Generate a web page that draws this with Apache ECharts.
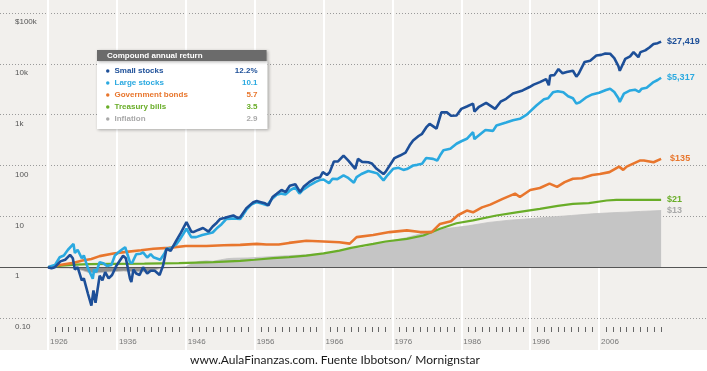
<!DOCTYPE html>
<html>
<head>
<meta charset="utf-8">
<script src="https://cdn.jsdelivr.net/npm/echarts@6/dist/echarts.min.js"></script>
<style>html,body{margin:0;padding:0;background:#fff}#c{width:707px;height:371px}</style>
</head>
<body>
<div id="c"></div>
<script>
// ---------- DATA ----------
const seriesNames = ['Small stocks', 'Large stocks', 'Government bonds', 'Treasury bills', 'Inflation'];
const annualReturns = ['12.2%', '10.1', '5.7', '3.5', '2.9'];
const endValues = ['$27,419', '$5,317', '$135', '$21', '$13'];
const yTickLabels = ['0.10', '1', '10', '100', '1k', '10k', '$100k'];
const legendTitle = 'Compound annual return';
const caption = 'www.AulaFinanzas.com. Fuente Ibbotson/ Mornignstar';

const smallT = [1926.0,1926.5,1927.0,1927.8,1928.5,1929.2,1929.6,1929.9,1930.3,1930.9,1931.2,1931.8,1932.3,1932.6,1932.9,1933.0,1933.5,1933.9,1934.3,1934.8,1935.3,1935.9,1936.9,1937.3,1937.9,1938.1,1938.4,1938.8,1939.3,1939.8,1940.4,1940.9,1941.5,1942.2,1942.7,1943.2,1943.8,1944.6,1945.3,1946.1,1946.8,1947.1,1947.8,1948.5,1949.3,1949.9,1950.5,1951.0,1951.6,1952.2,1952.9,1953.5,1953.9,1954.8,1955.8,1956.3,1956.9,1957.5,1958.0,1958.6,1959.2,1959.9,1960.5,1961.1,1961.9,1962.6,1963.1,1963.9,1964.8,1965.5,1965.9,1966.5,1966.9,1967.5,1968.1,1968.9,1969.6,1970.6,1971.0,1971.6,1972.5,1973.0,1973.7,1974.7,1975.0,1975.6,1976.3,1977.1,1977.9,1978.5,1979.0,1979.8,1980.3,1980.9,1981.4,1982.4,1983.1,1983.9,1984.5,1985.3,1986.0,1986.8,1987.7,1987.9,1988.5,1989.6,1990.9,1991.7,1992.5,1993.5,1994.9,1995.9,1996.5,1997.4,1998.3,1998.7,1998.9,1999.5,2000.1,2000.7,2001.3,2002.2,2002.7,2003.0,2003.9,2004.7,2005.6,2006.3,2006.9,2007.6,2008.2,2008.8,2009.0,2009.8,2010.5,2011.0,2011.7,2012.0,2012.7,2013.3,2013.9,2014.5,2015.0];
const smallV = [1.0,0.95,1.0,1.3,1.4,1.75,1.5,0.9,1.0,0.55,0.6,0.3,0.175,0.35,0.2,0.19,0.68,0.55,0.8,0.6,0.7,1.05,1.67,1.5,0.6,0.51,0.9,0.75,0.7,1.0,0.75,0.85,0.85,0.7,1.07,2.3,2.1,3.3,4.8,7.7,5.0,4.9,5.4,5.9,5.0,6.3,7.5,8.9,9.3,9.8,10.4,9.3,9.6,14.5,19,20,19,18,16.4,24,27.7,33,30,40,43,30,38,47,56,59,74,65,74,120,120,157,125,86,135,118,116,110,86,68,75,100,140,157,180,250,310,380,420,560,660,530,1110,1110,950,960,1300,1450,1650,1150,1400,1700,1300,1800,2050,2600,3000,3500,3900,4370,5000,3800,5900,6000,7900,6500,6900,7300,5600,6300,10900,11500,14600,15000,16000,15800,13000,9000,7300,12500,14000,17000,13500,17000,18400,21000,24600,25500,27419];

const largeT = [1926.0,1926.5,1927.0,1927.7,1928.3,1928.9,1929.7,1929.9,1930.3,1930.9,1931.2,1931.8,1932.5,1932.7,1933.0,1933.5,1934.0,1934.6,1935.2,1935.7,1936.5,1937.2,1937.9,1938.2,1938.8,1939.4,1939.8,1940.4,1940.9,1941.3,1942.3,1942.9,1943.2,1943.8,1944.6,1945.2,1946.1,1946.8,1947.5,1948.4,1949.0,1949.9,1950.5,1951.2,1951.9,1952.6,1953.4,1953.9,1954.8,1955.5,1956.3,1956.9,1957.8,1958.5,1959.2,1959.9,1960.5,1961.2,1961.9,1962.5,1963.0,1963.9,1964.8,1965.5,1966.0,1966.8,1967.3,1968.0,1968.9,1969.5,1970.4,1970.8,1971.5,1972.5,1973.2,1973.8,1974.7,1975.3,1976.1,1976.9,1977.6,1978.1,1979.0,1979.6,1980.3,1980.9,1981.9,1982.5,1982.9,1983.4,1984.4,1985.3,1986.0,1986.8,1987.7,1987.9,1988.2,1989.5,1990.6,1991.1,1992.5,1993.5,1994.5,1995.5,1996.9,1998.0,1998.6,1999.3,2000.0,2000.8,2001.5,2002.2,2002.7,2003.2,2004.2,2005.0,2006.0,2007.0,2007.6,2008.2,2008.8,2009.0,2009.6,2010.5,2011.2,2011.8,2012.2,2012.9,2013.9,2014.5,2015.0];
const largeV = [1,1.05,1.1,1.57,1.7,2.2,2.87,1.9,2.2,1.5,1.7,0.95,0.59,0.9,0.8,1.25,1.2,1.05,1.1,1.69,2.1,2.47,1.25,1.2,1.8,1.83,1.95,1.55,1.8,1.57,1.4,1.85,2.3,2.35,2.8,3.6,5.7,3.9,3.9,4.3,4.5,4.8,5.8,7.0,8.9,9.0,9.0,8.9,13.5,17,19,18,16.5,22,26.5,28,27,33,37,28,33,40,47,52,53,45,55,54,64,58,46,59,68,78,74,70,51,65,86,90,82,85,100,103,108,140,135,125,157,200,213,268,300,335,453,330,360,500,480,613,700,780,830,1000,1510,2000,2100,2750,2900,2750,2300,2100,1650,1750,2220,2500,2700,3050,3240,2800,2100,1780,2600,3000,3100,2800,3240,3400,4370,4800,5317];

const bondsT = [1926.0,1927.7,1929.5,1931.0,1932.3,1933.5,1935.5,1937.4,1939.5,1941.3,1943.5,1946.0,1949.0,1951.5,1953.9,1956.3,1957.7,1959.5,1961.0,1963.5,1966.0,1968.3,1969.8,1970.8,1973.2,1975.6,1978.1,1980.0,1981.7,1982.9,1984.5,1985.5,1986.8,1987.7,1989.0,1990.2,1992.0,1993.8,1994.5,1996.0,1997.4,1998.8,1999.9,2001.0,2002.2,2003.5,2005.0,2006.1,2007.5,2008.9,2009.5,2010.0,2011.9,2012.5,2013.9,2015.0];
const bondsV = [1,1.1,1.2,1.35,1.45,1.65,1.85,2.0,2.15,2.3,2.4,2.6,2.6,2.7,2.75,2.87,2.8,2.8,3.0,3.3,3.2,3.1,2.9,3.9,4.3,4.9,5.3,4.9,4.9,7.1,8.0,10.5,13,12,15,17,22,28,24,33,36,44,38,47,55,56,65,68,74,95,82,95,125,125,116,135];

const billsT = [1926,1928,1930,1932,1935,1940,1945,1950,1953.9,1956,1958.7,1961,1963.5,1966,1968.3,1970,1973.2,1975,1978.1,1980.5,1982.9,1985.3,1987.7,1991.1,1994,1997.4,2000,2002.2,2004.5,2007.1,2008.5,2015];
const billsV = [1,1.07,1.12,1.15,1.16,1.17,1.2,1.26,1.33,1.4,1.5,1.58,1.69,1.87,2.12,2.4,2.87,3.2,3.6,4.2,5.7,7.3,8.3,10.4,12,14,16,17.6,18.2,20.5,21,21];

const inflT = [1926,1927,1928,1929,1930,1931,1932,1933,1934,1935,1937,1938,1940,1941,1942,1943,1944,1945,1946,1947,1948,1949,1950,1951,1952,1953,1955,1957,1960,1963,1966,1968,1970,1972,1974,1976,1978,1980,1981,1983,1985,1987,1990,1993,1996,1999,2002,2005,2008,2010,2012,2015];
const inflV = [1,0.98,0.96,0.96,0.93,0.86,0.78,0.77,0.79,0.81,0.84,0.82,0.81,0.84,0.92,0.96,0.98,1.0,1.02,1.2,1.3,1.33,1.31,1.39,1.47,1.5,1.52,1.57,1.66,1.74,1.87,2.04,2.28,2.43,3.0,3.3,3.8,4.5,5.0,5.6,6.0,6.5,7.6,8.4,9.0,9.7,10.4,11.2,11.8,12.1,12.5,13];

// ---------- LAYOUT / STYLE ----------
const FONT = 'Liberation Sans, Arial, sans-serif';
const colors = ['#1d4f98', '#2aa9e0', '#e8762d', '#69ad28', '#a9a9a9'];
const X_1926 = 48, X_2016 = 668, W = 707;
const pxYear = (X_2016 - X_1926) / 90;
const xMinFull = 1926 - X_1926 / pxYear;
const xMaxFull = 2016 + (W - X_2016) / pxYear;

const zip = (t, v) => t.map((x, i) => [x, v[i]]);
const seriesData = [zip(smallT, smallV), zip(largeT, largeV), zip(bondsT, bondsV), zip(billsT, billsV), zip(inflT, inflV)];

function endLbl(i, dist) {
  return { show: true, formatter: endValues[i], color: colors[i], fontFamily: FONT,
    fontSize: 9, fontWeight: 'bold', distance: dist || 6 };
}
function lineSeries(i, extra) {
  return Object.assign({
    name: seriesNames[i], type: 'line', xAxisIndex: 0, yAxisIndex: 0,
    data: seriesData[i], symbol: 'none', showSymbol: false,
    lineStyle: { color: colors[i], width: 2.6 },
    itemStyle: { color: colors[i] },
    endLabel: endLbl(i),
    z: 10 - i
  }, extra || {});
}

const series = [
  lineSeries(4, {
    lineStyle: { color: '#c2c2c2', width: 0.8 },
    areaStyle: { color: '#c5c5c5', opacity: 1, origin: 1 },
    z: 3
  }),
  lineSeries(3, {
    lineStyle: { color: colors[3], width: 2.2 },
    markLine: { silent: true, symbol: 'none', label: { show: false },
      lineStyle: { color: '#555', type: 'solid', width: 1.2 }, data: [{ yAxis: 1 }] }
  }),
  lineSeries(2, { endLabel: endLbl(2, 9) }),
  lineSeries(1),
  lineSeries(0)
];

const option = {
  animation: false,
  backgroundColor: '#f2f0ed',
  title: [
    { text: legendTitle, left: 97, top: 50, backgroundColor: '#6b6b6b', padding: [2, 64, 1, 10],
      shadowBlur: 3, shadowColor: 'rgba(0,0,0,0.3)', shadowOffsetX: 1, shadowOffsetY: 1,
      textStyle: { color: '#fff', fontSize: 8, fontWeight: 'bold', lineHeight: 8, fontFamily: FONT } },
    { text: caption, left: 190, top: 354, padding: 0,
      textStyle: { color: '#1a1a1a', fontSize: 12, fontWeight: 'normal', fontFamily: 'Lato, sans-serif' } }
  ],
  legend: {
    left: 97, top: 61, orient: 'vertical', selectedMode: false,
    icon: 'circle', itemWidth: 3.5, itemHeight: 3.5, itemGap: 4,
    backgroundColor: '#fff', padding: [6, 10, 6, 9],
    shadowBlur: 3, shadowColor: 'rgba(0,0,0,0.3)', shadowOffsetX: 1, shadowOffsetY: 1,
    data: seriesNames.map((n, i) => ({ name: n, textStyle: { color: colors[i] }, itemStyle: { color: colors[i] } })),
    formatter: name => '{n|' + name + '}{v|' + annualReturns[seriesNames.indexOf(name)] + '}',
    textStyle: { fontFamily: FONT, fontSize: 8, fontWeight: 'bold',
      rich: {
        n: { width: 118, fontSize: 8, fontWeight: 'bold', lineHeight: 8, fontFamily: FONT },
        v: { width: 25, align: 'right', fontSize: 8, fontWeight: 'bold', lineHeight: 8, fontFamily: FONT }
      } }
  },
  grid: [
    { left: 0, right: 0, top: 13, bottom: 53 },                       // data + horizontal lines
    { left: X_1926, right: W - X_2016, top: 0, bottom: 21 },         // white decade lines
    { left: X_1926, right: W - X_2016, top: 0, bottom: 44 },         // year ticks + labels
    { left: 0, right: 0, top: 350, bottom: 0, show: true, backgroundColor: '#ffffff', borderWidth: 0 }
  ],
  xAxis: [
    { gridIndex: 0, type: 'value', min: xMinFull, max: xMaxFull, show: false },
    { gridIndex: 1, type: 'value', min: 1926, max: 2016, interval: 10,
      axisLine: { show: false }, axisTick: { show: false }, axisLabel: { show: false },
      splitLine: { show: true, showMaxLine: false, lineStyle: { color: '#ffffff', width: 2 } } },
    { gridIndex: 2, type: 'value', min: 1926, max: 2016, interval: 10,
      axisLine: { show: false }, axisTick: { show: false }, splitLine: { show: false },
      minorTick: { show: true, splitNumber: 10, length: 5, lineStyle: { color: '#666', width: 1 } },
      axisLabel: { show: true, showMaxLabel: false, margin: 11, align: 'left', padding: [0, 0, 0, 2],
        color: '#777', fontSize: 8, fontFamily: FONT, formatter: v => String(v) } },
    { gridIndex: 3, type: 'value', show: false }
  ],
  yAxis: [
    { gridIndex: 0, type: 'log', logBase: 10, min: 0.1, max: 100000,
      axisLine: { show: false }, axisTick: { show: false },
      splitLine: { show: true, lineStyle: { color: '#9a9a9a', type: [1, 2], width: 1 } },
      axisLabel: { inside: true, margin: 15, verticalAlign: 'top', padding: [5, 0, 0, 0],
        color: '#555', fontSize: 8, fontFamily: FONT,
        formatter: v => yTickLabels[Math.round(Math.log10(v)) + 1] } },
    { gridIndex: 1, type: 'value', show: false },
    { gridIndex: 2, type: 'value', show: false },
    { gridIndex: 3, type: 'value', show: false }
  ],
  series: series
};

const chart = echarts.init(document.getElementById('c'), null, { renderer: 'canvas' });
chart.setOption(option);

// Darker fill where inflation dips below 1: gradient split computed from the axis scale
try {
  const finder = { xAxisIndex: 0, yAxisIndex: 0 };
  const yOf = v => chart.convertToPixel(finder, [inflT[0], v])[1];
  const yTop = yOf(Math.max.apply(null, inflV));
  const yBot = yOf(Math.min.apply(null, inflV));
  const y1 = yOf(1);
  const off = Math.min(1, Math.max(0, (y1 - yTop) / (yBot - yTop)));
  chart.setOption({ series: [{
    areaStyle: { origin: 1, opacity: 1, color: new echarts.graphic.LinearGradient(0, 0, 0, 1, [
      { offset: 0, color: '#c5c5c5' }, { offset: off, color: '#c5c5c5' },
      { offset: off, color: '#8f8f8f' }, { offset: 1, color: '#8f8f8f' }]) }
  }] });
} catch (e) {}
</script>
</body>
</html>
